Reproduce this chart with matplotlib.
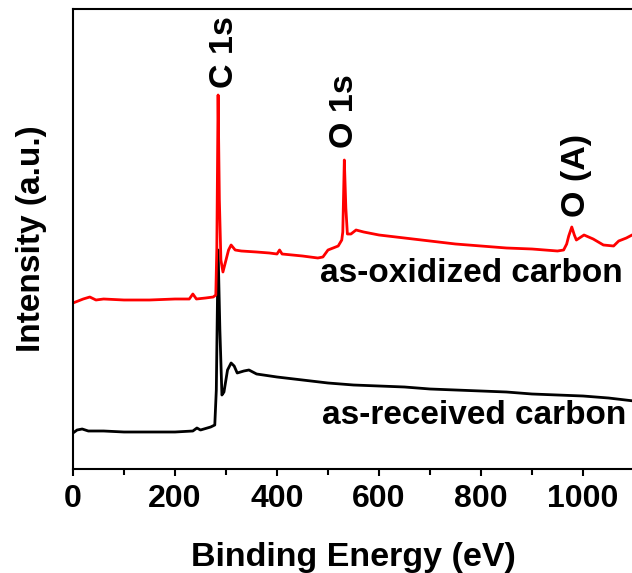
import matplotlib
matplotlib.use("Agg")
import matplotlib.pyplot as plt
from matplotlib.ticker import MultipleLocator

plt.rcParams['font.family'] = ['Liberation Sans', 'DejaVu Sans']
plt.rcParams['font.weight'] = 'bold'

# Binding energy (eV) and intensity (a.u.)
oxidized_be = [0, 10, 20, 33, 45, 60, 100, 150, 200, 228, 235, 242, 260, 275, 280,
               282, 284.5, 287, 290, 294, 300, 305, 310, 318, 330, 360, 385, 400, 405,
               410, 450, 480, 490, 500, 510, 520, 527, 529, 532, 535, 538, 545,
               555, 570, 600, 650, 700, 750, 800, 850, 900, 950, 962, 968, 972,
               978, 983, 987, 993, 1002, 1020, 1040, 1060, 1070, 1085, 1100]
oxidized_int = [16.5, 16.7, 16.9, 17.1, 16.8, 16.9, 16.8, 16.8, 16.9, 16.9, 17.4, 16.9, 17.0, 17.1, 17.3,
                22.0, 37.3, 26.8, 20.8, 19.6, 20.8, 21.8, 22.3, 21.8, 21.7, 21.6, 21.5, 21.4, 21.8,
                21.4, 21.2, 21.0, 21.1, 21.8, 22.0, 22.2, 22.8, 23.6, 30.8, 26.0, 23.4, 23.4,
                23.8, 23.6, 23.3, 23.0, 22.7, 22.4, 22.2, 22.0, 21.9, 21.7, 21.8, 22.4, 23.2,
                24.1, 23.3, 22.8, 23.0, 23.3, 22.9, 22.3, 22.2, 22.7, 23.0, 23.4]

received_be = [0, 8, 18, 30, 60, 100, 150, 200, 235, 243, 250, 270, 278,
               281, 284.5, 288, 292, 296, 303, 310, 316, 322, 335, 345, 360,
               400, 450, 500, 550, 600, 650, 700, 750, 800, 850, 900, 950,
               1000, 1050, 1100]
received_int = [3.5, 3.8, 3.9, 3.7, 3.7, 3.6, 3.6, 3.6, 3.7, 4.0, 3.8, 4.1, 4.3,
                7.8, 21.8, 13.8, 7.3, 7.6, 9.8, 10.5, 10.2, 9.5, 9.7, 9.8, 9.4,
                9.1, 8.8, 8.5, 8.3, 8.2, 8.1, 7.9, 7.8, 7.7, 7.6, 7.4, 7.3,
                7.2, 7.0, 6.7]

peak_labels = ["C 1s", "O 1s", "O (A)"]
peak_label_x = [298, 533, 988]
peak_label_y = [38.0, 32.0, 25.1]

curve_labels = ["as-oxidized carbon", "as-received carbon"]
curve_label_x = [1078, 1086]
curve_label_y = [18.55, 4.35]

fig = plt.figure(figsize=(6.32, 5.73), dpi=100)
ax = fig.add_axes([73/632, (573-468.5)/573, (634-73)/632, (468.5-8.5)/573])

ax.plot(received_be, received_int, color='black', lw=2.0)
ax.plot(oxidized_be, oxidized_int, color='#ff0000', lw=2.0)

for lab, x, y in zip(peak_labels, peak_label_x, peak_label_y):
    ax.text(x, y, lab, rotation=90, ha='center', va='bottom', fontsize=24.5, fontweight='bold')

for lab, x, y in zip(curve_labels, curve_label_x, curve_label_y):
    ax.text(x, y, lab, ha='right', va='baseline', fontsize=24, fontweight='bold')

ax.set_xlim(0, 1100)
ax.set_ylim(-0.05, 45.95)
ax.set_yticks([])
ax.xaxis.set_major_locator(MultipleLocator(200))
ax.xaxis.set_minor_locator(MultipleLocator(100))
ax.tick_params(axis='x', which='major', direction='out', length=5, width=1.5, labelsize=23, pad=6)
ax.tick_params(axis='x', which='minor', direction='out', length=4, width=1.5)
for lab in ax.get_xticklabels():
    lab.set_fontweight('bold')
for s in ax.spines.values():
    s.set_linewidth(1.5)

ax.set_xlabel("Binding Energy (eV)", fontsize=24.5, fontweight='bold', labelpad=20)
ax.set_ylabel("Intensity (a.u.)", fontsize=24, fontweight='bold', labelpad=19)

fig.savefig("out.png", dpi=100)
